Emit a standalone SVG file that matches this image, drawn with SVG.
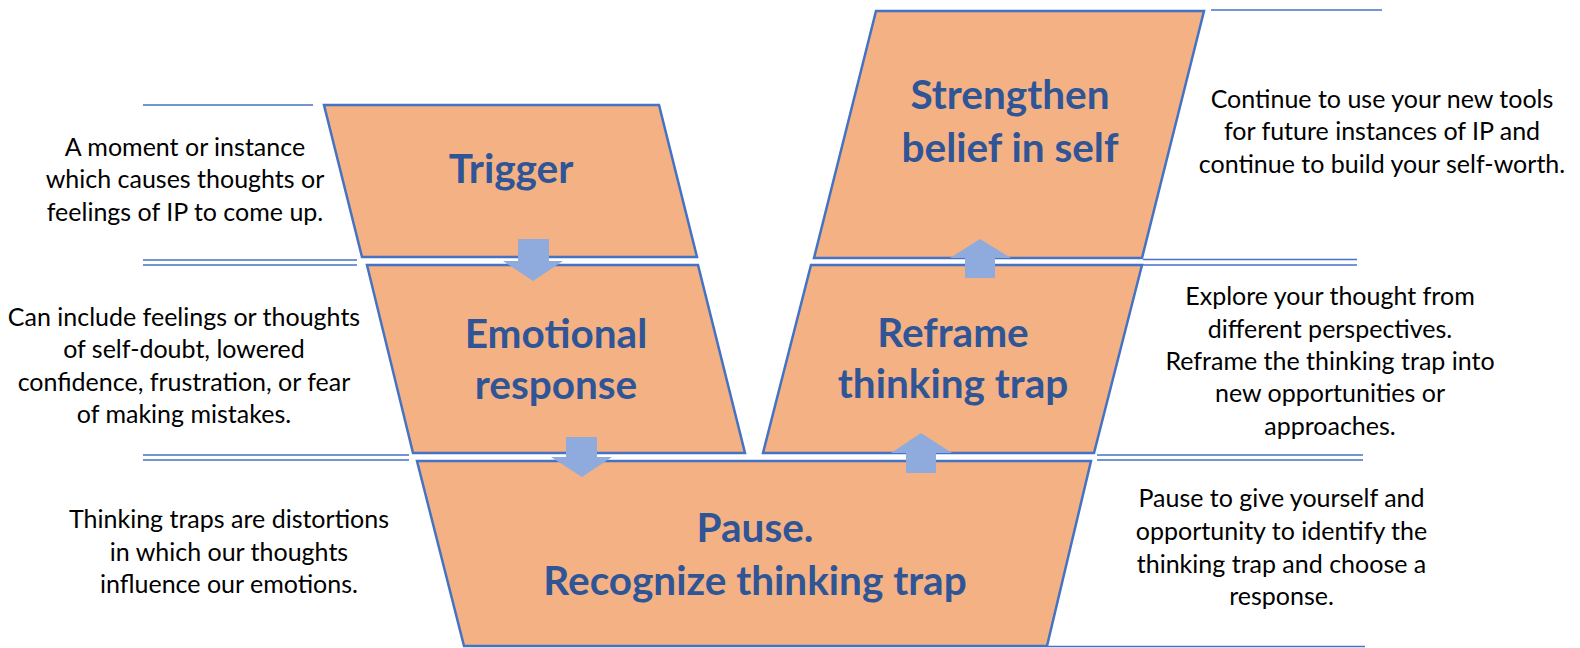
<svg xmlns="http://www.w3.org/2000/svg" width="1580" height="648" viewBox="0 0 1580 648">
  <defs>
    <style>
      .box { fill: #f4b183; stroke: #4472c4; stroke-width: 2.5; stroke-linejoin: miter; }
      .title { font-family: Lato, "Liberation Sans", sans-serif; font-weight: bold; font-size: 40.5px; fill: #2f5597; text-anchor: middle; }
      .note { font-family: Lato, "Liberation Sans", sans-serif; font-size: 25px; fill: #000000; text-anchor: middle; }
      .rule { stroke: #4472c4; stroke-width: 1.4; fill: none; }
      .flow { fill: #8faadc; stroke: none; }
    </style>
    <linearGradient id="fadeRule" x1="0" y1="0" x2="1" y2="0">
      <stop offset="0" stop-color="#dae3f3" stop-opacity="0"/>
      <stop offset="1" stop-color="#b4c7e7"/>
    </linearGradient>
  </defs>

  <rect width="1580" height="648" fill="#ffffff"/>

  <!-- horizontal guide rules -->
  <g id="rules">
    <line class="rule" x1="143" y1="105" x2="313" y2="105"/>
    <line class="rule" x1="143" y1="260" x2="357" y2="260"/>
    <line class="rule" x1="143" y1="265" x2="357" y2="265"/>
    <line class="rule" x1="143" y1="455" x2="409" y2="455"/>
    <line class="rule" x1="143" y1="460" x2="409" y2="460"/>
    <line x1="300" y1="646.5" x2="462" y2="646.5" stroke="url(#fadeRule)" stroke-width="1.4"/>
    <line class="rule" x1="1211" y1="10" x2="1382" y2="10"/>
    <line class="rule" x1="1143" y1="259.5" x2="1357" y2="259.5"/>
    <line class="rule" x1="1143" y1="265" x2="1357" y2="265"/>
    <line class="rule" x1="1097" y1="455" x2="1363" y2="455"/>
    <line class="rule" x1="1097" y1="460" x2="1363" y2="460"/>
    <line class="rule" x1="1048" y1="646.5" x2="1365" y2="646.5"/>
  </g>

  <!-- stages -->
  <g id="node-trigger">
    <polygon class="box" points="324,105 659,105 697,257 362,257"/>
    <text class="title" x="511" y="183">Trigger</text>
  </g>
  <g id="node-emotional">
    <polygon class="box" points="367,265 698,265 745,453 413,453"/>
    <text class="title" x="556" y="348">Emotional</text>
    <text class="title" x="556" y="399">response</text>
  </g>
  <g id="node-pause">
    <polygon class="box" points="417,461 1091,461 1047,646 464,646"/>
    <text class="title" x="755" y="542">Pause.</text>
    <text class="title" x="755" y="595">Recognize thinking trap</text>
  </g>
  <g id="node-reframe">
    <polygon class="box" points="811,265 1142,265 1094,453 763,453"/>
    <text class="title" x="953" y="347">Reframe</text>
    <text class="title" x="953" y="398">thinking trap</text>
  </g>
  <g id="node-strengthen">
    <polygon class="box" points="876,11 1204,11 1142,258 814,258"/>
    <text class="title" x="1010" y="109">Strengthen</text>
    <text class="title" x="1010" y="162">belief in self</text>
  </g>

  <!-- flow arrows -->
  <g id="connectors">
    <polygon class="flow" points="518,239 549,239 549,261 563,261 533,281 503,261 518,261"/>
    <polygon class="flow" points="566,437 597,437 597,457 612,457 582,477 551,457 566,457"/>
    <polygon class="flow" points="906,473 936,473 936,453 952,453 921,433 891,453 906,453"/>
    <polygon class="flow" points="965,278 995,278 995,258 1011,258 980,239 950,258 965,258"/>
  </g>

  <!-- descriptions -->
  <g id="note-trigger" class="note">
    <text x="185" y="155.5">A moment or instance</text>
    <text x="185" y="188">which causes thoughts or</text>
    <text x="185" y="220.5">feelings of IP to come up.</text>
  </g>
  <g id="note-emotional" class="note">
    <text x="184" y="326">Can include feelings or thoughts</text>
    <text x="184" y="358">of self-doubt, lowered</text>
    <text x="184" y="390.5">confidence, frustration, or fear</text>
    <text x="184" y="423">of making mistakes.</text>
  </g>
  <g id="note-pause-left" class="note">
    <text x="229" y="528">Thinking traps are distortions</text>
    <text x="229" y="561">in which our thoughts</text>
    <text x="229" y="593">influence our emotions.</text>
  </g>
  <g id="note-strengthen" class="note">
    <text x="1382" y="107.5">Continue to use your new tools</text>
    <text x="1382" y="140">for future instances of IP and</text>
    <text x="1382" y="172.5">continue to build your self-worth.</text>
  </g>
  <g id="note-reframe" class="note">
    <text x="1330" y="305">Explore your thought from</text>
    <text x="1330" y="337.5">different perspectives.</text>
    <text x="1330" y="370">Reframe the thinking trap into</text>
    <text x="1330" y="402">new opportunities or</text>
    <text x="1330" y="434.5">approaches.</text>
  </g>
  <g id="note-pause-right" class="note">
    <text x="1281.5" y="507">Pause to give yourself and</text>
    <text x="1281.5" y="540">opportunity to identify the</text>
    <text x="1281.5" y="572.5">thinking trap and choose a</text>
    <text x="1281.5" y="605">response.</text>
  </g>
</svg>
